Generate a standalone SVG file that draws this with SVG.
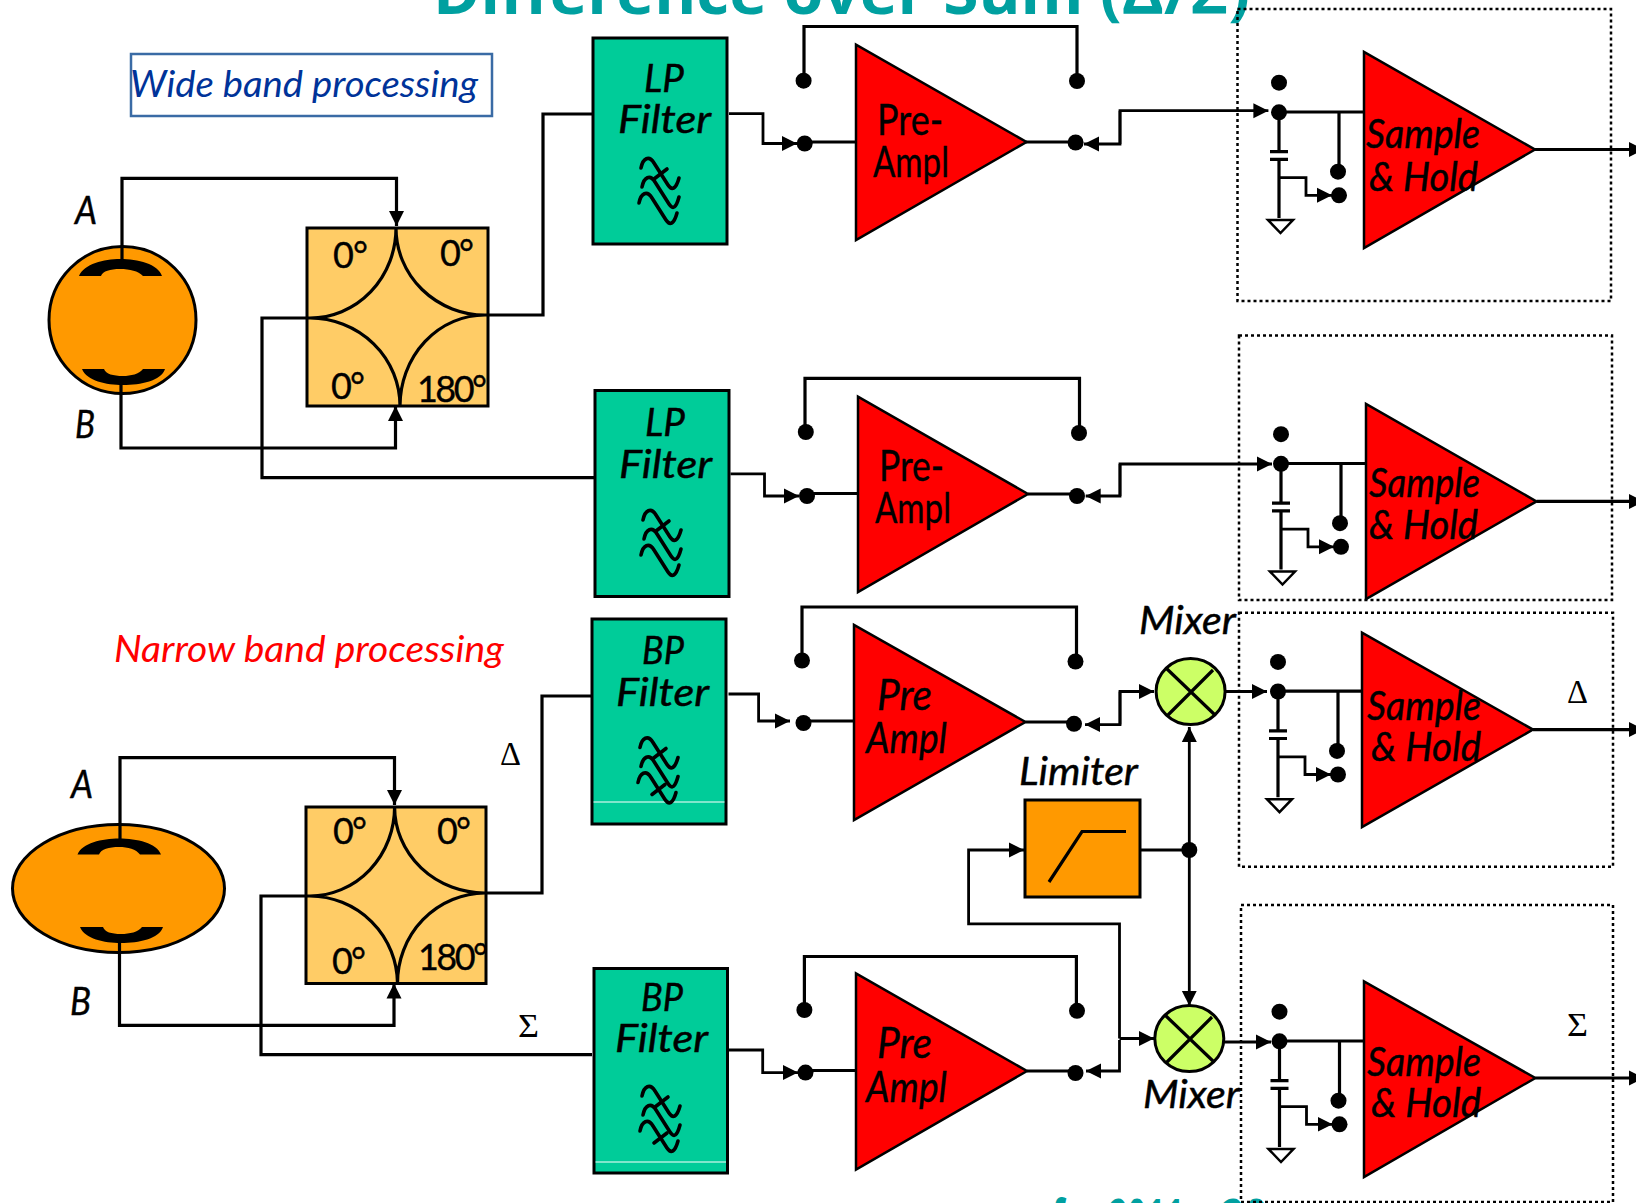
<svg xmlns="http://www.w3.org/2000/svg" width="1636" height="1203" viewBox="0 0 1636 1203">
<style>
text{font-family:"Lato","Open Sans","Liberation Sans",sans-serif;fill:#000}
.lab{font-size:39px;font-style:italic;stroke:#000;stroke-width:.45px}
.sh{font-size:40px;font-style:italic;stroke:#000;stroke-width:.45px}
.amp{font-size:42px;stroke:#000;stroke-width:.35px}
.ang{font-size:36px;stroke:#000;stroke-width:.35px}
.sym{font-family:"Liberation Serif",serif;font-size:33px}
.title{font-family:"Open Sans","Liberation Sans",sans-serif;font-weight:700;fill:#00A0A0}
.blk{fill:none;stroke:#000;stroke-width:3.2}
.thin{fill:none;stroke:#000;stroke-width:2.8}
.tri{fill:#FF0000;stroke:#000;stroke-width:2.5}
.filt{fill:#00CC99;stroke:#000;stroke-width:3}
.hyb{fill:#FFCC66;stroke:#000;stroke-width:3}
.ant{fill:#FF9900;stroke:#000;stroke-width:3}
.mix{fill:#CCFF66;stroke:#000;stroke-width:3}
.dotbox{fill:none;stroke:#000;stroke-width:2.5;stroke-dasharray:3 3}
.wave{fill:none;stroke:#000;stroke-width:3.6;stroke-linecap:round}
.arr{marker-end:url(#ah)}
</style>
<defs>
<marker id="ah" markerUnits="userSpaceOnUse" markerWidth="16" markerHeight="16" refX="15" refY="8" orient="auto"><path d="M0 0.5L15 8L0 15.5Z" fill="#000"/></marker>
<g id="lpw">
<path class="wave" d="M641 168C643 158 649 155 654 163L668 185C672 191 676 189 679 178"/>
<path class="wave" d="M642 187C644 177 650 174 655 182L669 204C673 210 676 208 679 197"/>
<path class="wave" d="M639 203C641 193 647 190 652 198L666 220C670 226 674 224 677 213"/>
<path class="wave" d="M654 179L667 169"/>
</g>
<g id="bpw"><use href="#lpw"/><path class="wave" d="M653 215L666 205"/></g>
<g id="sub">
<circle cx="1279" cy="82.7" r="8"/>
<circle cx="1279" cy="112.3" r="8"/>
<path class="blk" d="M1279 112H1364M1339 112V172M1279 112V152M1279 159V218"/>
<path class="blk" d="M1270 151.7H1288M1270 159.3H1288"/>
<path class="thin arr" d="M1279 177.7H1306V195.3H1332"/>
<circle cx="1338" cy="171.7" r="8"/>
<circle cx="1339" cy="195.3" r="8"/>
<path d="M1268 220H1293L1280.5 233Z" fill="#fff" stroke="#000" stroke-width="2.5"/>
</g>
</defs>
<rect width="1636" height="1203" fill="#fff"/>

<text class="title" x="433" y="14" font-size="60" textLength="817" lengthAdjust="spacingAndGlyphs">Difference over Sum (Δ/Σ)</text>
<text class="title" x="1052" y="1238" font-size="54" textLength="132" lengthAdjust="spacingAndGlyphs">for 2011</text>
<text class="title" x="1221" y="1238" font-size="54" textLength="47" lengthAdjust="spacingAndGlyphs">20</text>

<g id="wide-band-label">
<rect x="131" y="54" width="361" height="62" fill="#fff" stroke="#3A6BA5" stroke-width="2.5"/>
<text x="130" y="97" font-size="36" font-style="italic" style="fill:#003399" textLength="348" lengthAdjust="spacingAndGlyphs">Wide band processing</text>
</g>
<text id="narrow-band-label" x="114" y="662" font-size="36" font-style="italic" style="fill:#FF0000" textLength="390" lengthAdjust="spacingAndGlyphs">Narrow band processing</text>

<g id="connectors">
<path class="blk arr" d="M122 260V178.3H396.5V226"/>
<path class="blk arr" d="M121 385V448H395.5V406"/>
<path class="blk" d="M310 318H262V477.6H598.6"/>
<path class="blk" d="M485 315H543V114H598"/>
<path class="blk arr" d="M120 840V757.7H394.5V805"/>
<path class="blk arr" d="M119.5 950V1025.4H394V983.5"/>
<path class="blk" d="M310 896H261V1054.6H592"/>
<path class="blk" d="M485 893H542V696H594"/>
<path class="thin arr" d="M729 113.7H763V143.5H797"/>
<path class="blk" d="M804 142H856"/>
<path class="blk" d="M804 81V26.5H1077V81"/>
<path class="blk" d="M1026 142H1076"/>
<path class="thin arr" d="M1120 110.7V144H1084"/>
<path class="thin arr" d="M1120 144V110.7H1268.4"/>
<circle cx="804.7" cy="143.5" r="8"/><circle cx="803.6" cy="80.7" r="8"/><circle cx="1077" cy="81" r="8"/><circle cx="1075.6" cy="142.5" r="8"/>
<use href="#sub"/>
<path class="blk arr" d="M1535 149.5H1644"/>
<path class="thin arr" d="M730.5 473.8H764.5V496H799"/>
<path class="blk" d="M806 493.5H858"/>
<path class="blk" d="M805 432V378.4H1079.5V433"/>
<path class="blk" d="M1028 494H1077"/>
<path class="thin arr" d="M1120 464V496H1085.7"/>
<path class="thin arr" d="M1120 496V464H1272"/>
<circle cx="807" cy="496" r="8"/><circle cx="805.8" cy="432" r="8"/><circle cx="1079" cy="433" r="8"/><circle cx="1077" cy="496" r="8"/>
<use href="#sub" transform="translate(2 351.5)"/>
<path class="blk arr" d="M1536.5 501.4H1644"/>
<path class="thin arr" d="M728.5 694H758.6V721H790"/>
<path class="blk" d="M803 721H854"/>
<path class="blk" d="M802 660.5V607H1076.5V661.5"/>
<path class="blk" d="M1025.5 722H1074"/>
<path class="thin arr" d="M1120 691.5V724.6H1085"/>
<path class="thin arr" d="M1120 724.6V691.5H1154"/>
<circle cx="803.5" cy="723" r="8"/><circle cx="802" cy="660.5" r="8"/><circle cx="1075.5" cy="661.5" r="8"/><circle cx="1074" cy="723.8" r="8"/>
<path class="thin arr" d="M1225 691.5H1267"/>
<use href="#sub" transform="translate(-1 579.2)"/>
<path class="blk arr" d="M1533 729.6H1644"/>
<path class="thin arr" d="M728.6 1050H762.7V1072.6H798"/>
<path class="blk" d="M805 1070.5H856"/>
<path class="blk" d="M804.4 1010V956.5H1076.4V1010"/>
<path class="blk" d="M1027 1071H1075"/>
<path class="thin arr" d="M1119.5 1040V1071H1086"/>
<circle cx="805.5" cy="1072.6" r="8"/><circle cx="804.4" cy="1010" r="8"/><circle cx="1077" cy="1010.8" r="8"/><circle cx="1075.5" cy="1073" r="8"/>
<path class="thin arr" d="M1224 1042H1271"/>
<use href="#sub" transform="translate(0.5 929)"/>
<path class="blk arr" d="M1535.4 1078H1644"/>
<path class="thin arr" d="M1119.5 1038.5V923.8H968.6V850H1024"/>
<path class="blk arr" d="M1119.5 1038.5H1154"/>
<path class="thin" d="M1140 850H1189"/>
<path class="thin arr" d="M1189.3 850V727"/>
<path class="thin arr" d="M1189.3 850V1005.8"/>
<circle cx="1189.3" cy="850" r="8"/>
</g>

<g id="antenna-1">
<circle cx="122.5" cy="320" r="73.5" class="ant"/>
<path d="M79 276C84 264 104 259 120 259C138 259 158 264 162 276H143C138 271 130 269 120 269C110 269 103 271 101 276Z"/>
<path d="M82 369C87 381 106 385 123 385C141 385 161 381 165 369H143C139 374 131 376 123 376C113 376 106 374 104 369Z"/>
<path class="blk" d="M122 246V260M121 385V394"/>
<text class="lab" x="75" y="224" textLength="22" lengthAdjust="spacingAndGlyphs">A</text>
<text class="lab" x="75" y="438" textLength="20" lengthAdjust="spacingAndGlyphs">B</text>
</g>
<g id="antenna-2">
<ellipse cx="118.5" cy="888.5" rx="106" ry="64" class="ant"/>
<path d="M77.5 854.6C82 843 102 838.5 119 838.5C137 838.5 157 843 161 854.6H140C136 849 128 847 119 847C109 847 101 849 99 854.6Z"/>
<path d="M80 927C85 939 104 943 121 943C139 943 159 939 163 927H142C138 932 130 934 121 934C111 934 105 932 103 927Z"/>
<path class="blk" d="M120 824V840M119.5 943V953"/>
<text class="lab" x="71" y="798" textLength="22" lengthAdjust="spacingAndGlyphs">A</text>
<text class="lab" x="70" y="1015" textLength="21" lengthAdjust="spacingAndGlyphs">B</text>
</g>

<g id="hybrid-1">
<rect x="307" y="228" width="181" height="178" class="hyb"/>
<path class="blk" d="M396 228A86 90 0 0 1 310 318M396 228A89 87 0 0 0 485 315M310 318A90 88 0 0 1 400 406M485 315A85 91 0 0 0 400 406M307 318H312M483 315H488"/>
<text class="ang" x="333" y="268" textLength="35">0°</text>
<text class="ang" x="440" y="266" textLength="34">0°</text>
<text class="ang" x="331" y="399" textLength="34">0°</text>
<text class="ang" x="417" y="402" textLength="70">180°</text>
</g>
<g id="hybrid-2">
<rect x="306" y="807" width="180" height="176.5" class="hyb"/>
<path class="blk" d="M394.6 807A85 89 0 0 1 310 896M394.6 807A90 86 0 0 0 485 893M310 896A88 88 0 0 1 397.5 983.5M485 893A88 90 0 0 0 397.5 983.5M306 896H312M483 893H487"/>
<text class="ang" x="333" y="844" textLength="34">0°</text>
<text class="ang" x="437" y="844" textLength="34">0°</text>
<text class="ang" x="332" y="974" textLength="34">0°</text>
<text class="ang" x="418" y="970" textLength="70">180°</text>
</g>
<text class="sym" x="500" y="765" textLength="21" lengthAdjust="spacingAndGlyphs">Δ</text>
<text class="sym" x="518" y="1037" textLength="21" lengthAdjust="spacingAndGlyphs">Σ</text>

<g id="filter-lp1">
<rect x="593" y="38" width="134" height="206" class="filt"/>
<text class="lab" x="644" y="92" textLength="40" lengthAdjust="spacingAndGlyphs">LP</text>
<text class="lab" x="618" y="133" textLength="93" lengthAdjust="spacingAndGlyphs">Filter</text>
<use href="#lpw"/>
</g>
<g id="filter-lp2">
<rect x="595" y="390.5" width="134" height="206" class="filt"/>
<text class="lab" x="645" y="436" textLength="40" lengthAdjust="spacingAndGlyphs">LP</text>
<text class="lab" x="619" y="478" textLength="93" lengthAdjust="spacingAndGlyphs">Filter</text>
<use href="#lpw" transform="translate(2 352)"/>
</g>
<g id="filter-bp1">
<rect x="592" y="619" width="134" height="205" class="filt"/>
<path d="M593.5 802H724.5" stroke="#fff" stroke-width="1.2"/>
<text class="lab" x="642" y="664" textLength="42" lengthAdjust="spacingAndGlyphs">BP</text>
<text class="lab" x="616" y="706" textLength="93" lengthAdjust="spacingAndGlyphs">Filter</text>
<use href="#bpw" transform="translate(-1 579.5)"/>
</g>
<g id="filter-bp2">
<rect x="594" y="968.5" width="133.5" height="204.5" class="filt"/>
<path d="M595.5 1162H726" stroke="#fff" stroke-width="1.2"/>
<text class="lab" x="641" y="1011" textLength="42" lengthAdjust="spacingAndGlyphs">BP</text>
<text class="lab" x="615" y="1052" textLength="93" lengthAdjust="spacingAndGlyphs">Filter</text>
<use href="#bpw" transform="translate(1 928)"/>
</g>

<g id="preamp-1">
<path class="tri" d="M856 44.7V240L1026.5 142Z"/>
<text class="amp" x="877" y="135" textLength="66" lengthAdjust="spacingAndGlyphs">Pre-</text>
<text class="amp" x="873" y="177" textLength="76" lengthAdjust="spacingAndGlyphs">Ampl</text>
</g>
<g id="preamp-2">
<path class="tri" d="M858 396.6V592L1028 494Z"/>
<text class="amp" x="879" y="481" textLength="65" lengthAdjust="spacingAndGlyphs">Pre-</text>
<text class="amp" x="875" y="523" textLength="76" lengthAdjust="spacingAndGlyphs">Ampl</text>
</g>
<g id="preamp-3">
<path class="tri" d="M854 625V820L1025.5 722Z"/>
<text class="amp" font-style="italic" x="877" y="710" textLength="55" lengthAdjust="spacingAndGlyphs">Pre</text>
<text class="amp" font-style="italic" x="866" y="753" textLength="81" lengthAdjust="spacingAndGlyphs">Ampl</text>
</g>
<g id="preamp-4">
<path class="tri" d="M856 973.5V1169.7L1027 1071Z"/>
<text class="amp" font-style="italic" x="877" y="1058" textLength="55" lengthAdjust="spacingAndGlyphs">Pre</text>
<text class="amp" font-style="italic" x="866" y="1102" textLength="81" lengthAdjust="spacingAndGlyphs">Ampl</text>
</g>

<g id="sample-hold-1">
<rect x="1237.5" y="9" width="373.5" height="292" class="dotbox"/>
<path class="tri" d="M1364 52V248L1535 149.5Z"/>
<text class="sh" x="1366" y="148" textLength="114" lengthAdjust="spacingAndGlyphs">Sample</text>
<text class="sh" x="1369" y="191" textLength="109" lengthAdjust="spacingAndGlyphs">&amp; Hold</text>
</g>
<g id="sample-hold-2">
<rect x="1239" y="335.5" width="373" height="264.5" class="dotbox"/>
<path class="tri" d="M1366 404V599L1536.5 501.4Z"/>
<text class="sh" x="1369" y="497" textLength="111" lengthAdjust="spacingAndGlyphs">Sample</text>
<text class="sh" x="1369" y="539" textLength="109" lengthAdjust="spacingAndGlyphs">&amp; Hold</text>
</g>
<g id="sample-hold-3">
<rect x="1239" y="612.7" width="374" height="254" class="dotbox"/>
<path class="tri" d="M1362 632.7V827L1533 729.6Z"/>
<text class="sh" x="1367" y="720" textLength="114" lengthAdjust="spacingAndGlyphs">Sample</text>
<text class="sh" x="1371" y="761" textLength="110" lengthAdjust="spacingAndGlyphs">&amp; Hold</text>
<text class="sym" x="1567" y="703" textLength="21" lengthAdjust="spacingAndGlyphs">Δ</text>
</g>
<g id="sample-hold-4">
<rect x="1241" y="905" width="372" height="297" class="dotbox"/>
<path class="tri" d="M1364 981.5V1177L1535.4 1078Z"/>
<text class="sh" x="1367" y="1076" textLength="114" lengthAdjust="spacingAndGlyphs">Sample</text>
<text class="sh" x="1371" y="1117" textLength="110" lengthAdjust="spacingAndGlyphs">&amp; Hold</text>
<text class="sym" x="1567" y="1036" textLength="21" lengthAdjust="spacingAndGlyphs">Σ</text>
</g>

<g id="mixer-1">
<ellipse cx="1190.6" cy="691.5" rx="34.5" ry="33" class="mix"/>
<path class="blk" d="M1166 668L1215 715M1213 670L1167 716"/>
<text class="lab" x="1139" y="634" textLength="97" lengthAdjust="spacingAndGlyphs">Mixer</text>
</g>
<g id="mixer-2">
<ellipse cx="1189.3" cy="1038.5" rx="34.5" ry="33" class="mix"/>
<path class="blk" d="M1165 1015L1214 1062M1212 1017L1166 1063"/>
<text class="lab" x="1143" y="1108" textLength="97" lengthAdjust="spacingAndGlyphs">Mixer</text>
</g>
<g id="limiter">
<rect x="1025" y="800" width="115" height="97" fill="#FF9900" stroke="#000" stroke-width="3"/>
<path class="blk" d="M1049 882L1082 831.5H1126"/>
<text class="lab" x="1019" y="785" textLength="119" lengthAdjust="spacingAndGlyphs">Limiter</text>
</g>
</svg>
